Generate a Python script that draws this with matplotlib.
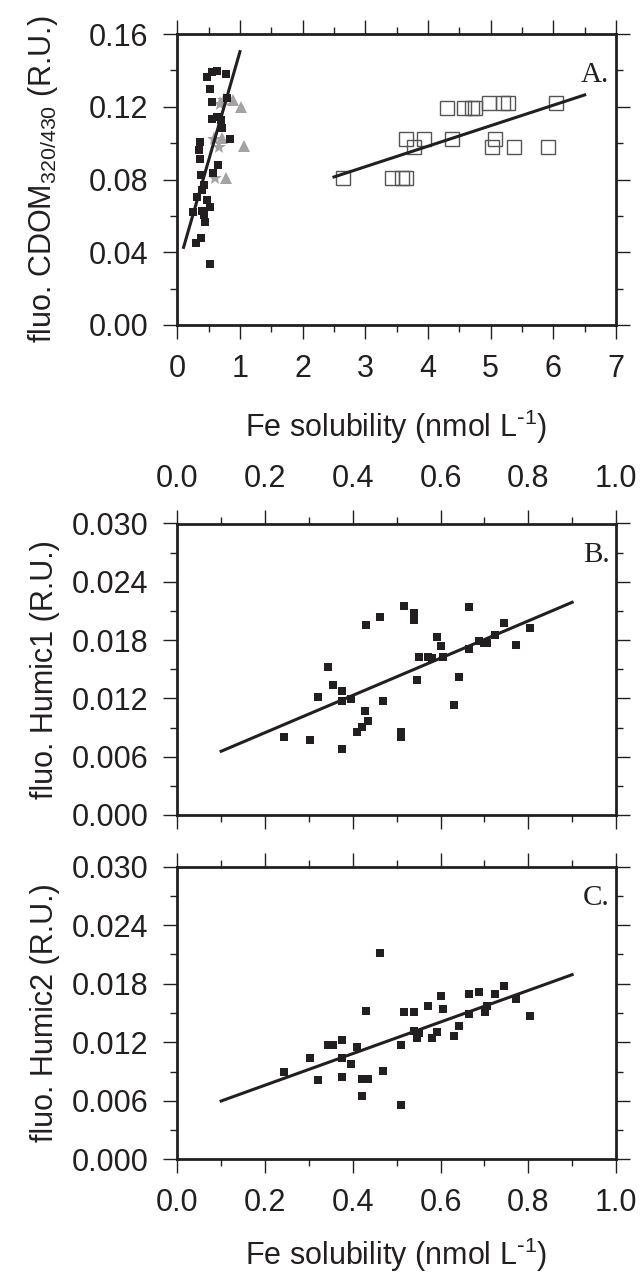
import matplotlib
matplotlib.use("Agg")
import matplotlib.pyplot as plt
import numpy as np
from matplotlib.ticker import MultipleLocator, FormatStrFormatter

plt.rcParams['font.family'] = ['Liberation Sans', 'DejaVu Sans']
plt.rcParams['mathtext.fontset'] = 'custom'
plt.rcParams['mathtext.rm'] = 'Liberation Sans'
plt.rcParams['mathtext.it'] = 'Liberation Sans'

INK = '#231f20'
GREY = '#a3a3a3'

# ---------------- Panel A data ----------------
a_black_x = [0.47, 0.55, 0.63, 0.78, 0.52, 0.55, 0.80, 0.56, 0.63, 0.69, 0.71, 0.84,
             0.36, 0.35, 0.37, 0.645, 0.375, 0.565, 0.43, 0.40, 0.31, 0.47, 0.52,
             0.25, 0.40, 0.42, 0.44, 0.375, 0.295, 0.52]
a_black_y = [0.1365, 0.1393, 0.1398, 0.1378, 0.1300, 0.1228, 0.1246, 0.1133, 0.1145,
             0.1127, 0.1081, 0.1021, 0.1008, 0.0962, 0.0911, 0.0880, 0.0826, 0.0834,
             0.0768, 0.0742, 0.0703, 0.0685, 0.0650, 0.0623, 0.0628, 0.0607, 0.0564,
             0.0477, 0.0453, 0.0336]
a_star_x = [0.68, 0.74, 0.58, 0.67, 0.60]
a_star_y = [0.1215, 0.1235, 0.1020, 0.0981, 0.0807]
a_tri_x = [0.89, 1.01, 0.71, 1.06, 0.77]
a_tri_y = [0.1235, 0.1197, 0.1030, 0.0983, 0.0810]
a_open_x = [4.30, 4.575, 4.70, 4.75, 4.97, 5.20, 5.27, 6.05, 3.645, 3.94, 4.38, 5.07,
            3.78, 5.02, 5.37, 5.91, 3.43, 3.58, 3.65, 2.65]
a_open_y = [0.1195, 0.1195, 0.1195, 0.1195, 0.1222, 0.1222, 0.1222, 0.1222, 0.1023,
            0.1023, 0.1023, 0.1023, 0.0981, 0.0981, 0.0981, 0.0981, 0.0807, 0.0807,
            0.0807, 0.0807]
a_fit1_x = [0.1, 1.0]
a_fit1_y = [0.0427, 0.1503]
a_fit2_x = [2.5, 6.5]
a_fit2_y = [0.0814, 0.1265]

# ---------------- Panel B / C data ----------------
bc_x = [0.243, 0.302, 0.375, 0.320, 0.343, 0.356, 0.375, 0.375, 0.395, 0.428, 0.434,
        0.422, 0.409, 0.430, 0.461, 0.468, 0.517, 0.539, 0.539, 0.511, 0.509, 0.546,
        0.550, 0.571, 0.581, 0.605, 0.593, 0.601, 0.630, 0.641, 0.666, 0.666, 0.688,
        0.707, 0.698, 0.724, 0.744, 0.771, 0.805]
b_y = [0.00804, 0.00773, 0.00680, 0.01210, 0.01526, 0.01340, 0.01278, 0.01175, 0.01196,
       0.01072, 0.00969, 0.00907, 0.00856, 0.01959, 0.02034, 0.01175, 0.02148, 0.02079,
       0.02003, 0.00856, 0.00804, 0.01392, 0.01629, 0.01629, 0.01612, 0.01629, 0.01835,
       0.01742, 0.01127, 0.01416, 0.02137, 0.01711, 0.01787, 0.01773, 0.01773, 0.01849,
       0.01979, 0.01753, 0.01921]
c_x = [0.243, 0.302, 0.320, 0.343, 0.356, 0.375, 0.375, 0.375, 0.395, 0.409, 0.422,
       0.434, 0.422, 0.430, 0.461, 0.468, 0.509, 0.511, 0.517, 0.539, 0.539, 0.550,
       0.546, 0.571, 0.581, 0.593, 0.601, 0.605, 0.630, 0.641, 0.666, 0.666, 0.688,
       0.701, 0.707, 0.724, 0.744, 0.771, 0.805]
c_y = [0.00895, 0.01042, 0.00817, 0.01172, 0.01172, 0.01227, 0.01042, 0.00847, 0.00981,
       0.01155, 0.00827, 0.00827, 0.00653, 0.01524, 0.02118, 0.00909, 0.00557, 0.01175,
       0.01514, 0.01514, 0.01319, 0.01298, 0.01247, 0.01575, 0.01247, 0.01309, 0.01678,
       0.01544, 0.01268, 0.01370, 0.01698, 0.01493, 0.01719, 0.01514, 0.01575, 0.01698,
       0.01780, 0.01647, 0.01473]
b_fit_x = [0.1, 0.9]
b_fit_y = [0.00656, 0.02189]
c_fit_x = [0.1, 0.9]
c_fit_y = [0.00598, 0.01893]

XLABEL = 'Fe solubility (nmol L$^{\\mathsf{\u2010}1}$)'

W, H = 640, 1272
fig = plt.figure(figsize=(W / 100, H / 100), dpi=100)


def box(l, t, r, b):
    return [l / W, 1 - b / H, (r - l) / W, (b - t) / H]


FS = 22


def style(ax):
    for s in ax.spines.values():
        s.set_linewidth(2.0)
        s.set_color(INK)
    ax.tick_params(which='both', direction='out', top=True, right=True,
                   color=INK, width=1.0, labelsize=FS, labelcolor=INK)
    ax.tick_params(which='major', length=10, pad=11)
    ax.tick_params(which='minor', length=5)


YLAB_X = (60 - 177.3) / 438.7

# Panel A
axA = fig.add_axes(box(177.3, 34, 616, 325))
axA.plot(a_fit1_x, a_fit1_y, color=INK, lw=2.2, zorder=3)
axA.plot(a_fit2_x, a_fit2_y, color=INK, lw=2.2, zorder=3)
axA.plot(a_black_x, a_black_y, 's', color=INK, ms=5.5, mew=0, zorder=4)
axA.plot(a_tri_x, a_tri_y, '^', color=GREY, ms=9, mew=0, zorder=2)
axA.plot(a_star_x, a_star_y, '*', color=GREY, ms=11, mew=0, zorder=2)
axA.plot(a_open_x, a_open_y, 's', mfc='none', mec='#555555', ms=9.5, mew=1.0, zorder=2)
axA.set_xlim(0, 7)
axA.set_ylim(0, 0.16)
axA.xaxis.set_major_locator(MultipleLocator(1))
axA.xaxis.set_minor_locator(MultipleLocator(0.5))
axA.yaxis.set_major_locator(MultipleLocator(0.04))
axA.yaxis.set_minor_locator(MultipleLocator(0.02))
axA.yaxis.set_major_formatter(FormatStrFormatter('%.2f'))
style(axA)
axA.set_xlabel(XLABEL, fontsize=FS, color=INK)
axA.xaxis.set_label_coords(0.5, (325 - 408) / 291)
axA.set_ylabel('fluo. CDOM$_{320/430}$ (R.U.)', fontsize=FS, color=INK)
axA.yaxis.set_label_coords(YLAB_X, 0.5)
axA.text(0.985, 0.86, 'A.', transform=axA.transAxes, ha='right', va='center',
         fontsize=21, family='Liberation Serif', color=INK)

# Panel B
axB = fig.add_axes(box(177.3, 523.5, 616, 815))
axB.plot(b_fit_x, b_fit_y, color=INK, lw=2.2, zorder=3)
axB.plot(bc_x, b_y, 's', color=INK, ms=5.5, mew=0, zorder=4)
axB.set_xlim(0, 1.0)
axB.set_ylim(0, 0.030)
axB.xaxis.set_major_locator(MultipleLocator(0.2))
axB.xaxis.set_minor_locator(MultipleLocator(0.1))
axB.yaxis.set_major_locator(MultipleLocator(0.006))
axB.yaxis.set_minor_locator(MultipleLocator(0.003))
axB.xaxis.set_major_formatter(FormatStrFormatter('%.1f'))
axB.yaxis.set_major_formatter(FormatStrFormatter('%.3f'))
style(axB)
axB.tick_params(axis='x', labelbottom=False, labeltop=True)
axB.set_ylabel('fluo. Humic1 (R.U.)', fontsize=FS, color=INK)
axB.yaxis.set_label_coords(YLAB_X, 0.5)
axB.text(0.985, 0.893, 'B.', transform=axB.transAxes, ha='right', va='center',
         fontsize=21, family='Liberation Serif', color=INK)

# Panel C
axC = fig.add_axes(box(177.3, 866.7, 616, 1159.3))
axC.plot(c_fit_x, c_fit_y, color=INK, lw=2.2, zorder=3)
axC.plot(c_x, c_y, 's', color=INK, ms=5.5, mew=0, zorder=4)
axC.set_xlim(0, 1.0)
axC.set_ylim(0, 0.030)
axC.xaxis.set_major_locator(MultipleLocator(0.2))
axC.xaxis.set_minor_locator(MultipleLocator(0.1))
axC.yaxis.set_major_locator(MultipleLocator(0.006))
axC.yaxis.set_minor_locator(MultipleLocator(0.003))
axC.xaxis.set_major_formatter(FormatStrFormatter('%.1f'))
axC.yaxis.set_major_formatter(FormatStrFormatter('%.3f'))
style(axC)
axC.set_xlabel(XLABEL, fontsize=FS, color=INK)
axC.xaxis.set_label_coords(0.5, (1159.3 - 1236) / 292.6)
axC.set_ylabel('fluo. Humic2 (R.U.)', fontsize=FS, color=INK)
axC.yaxis.set_label_coords(YLAB_X, 0.5)
axC.text(0.985, 0.893, 'C.', transform=axC.transAxes, ha='right', va='center',
         fontsize=21, family='Liberation Serif', color=INK)

fig.savefig('out.png', dpi=100)
